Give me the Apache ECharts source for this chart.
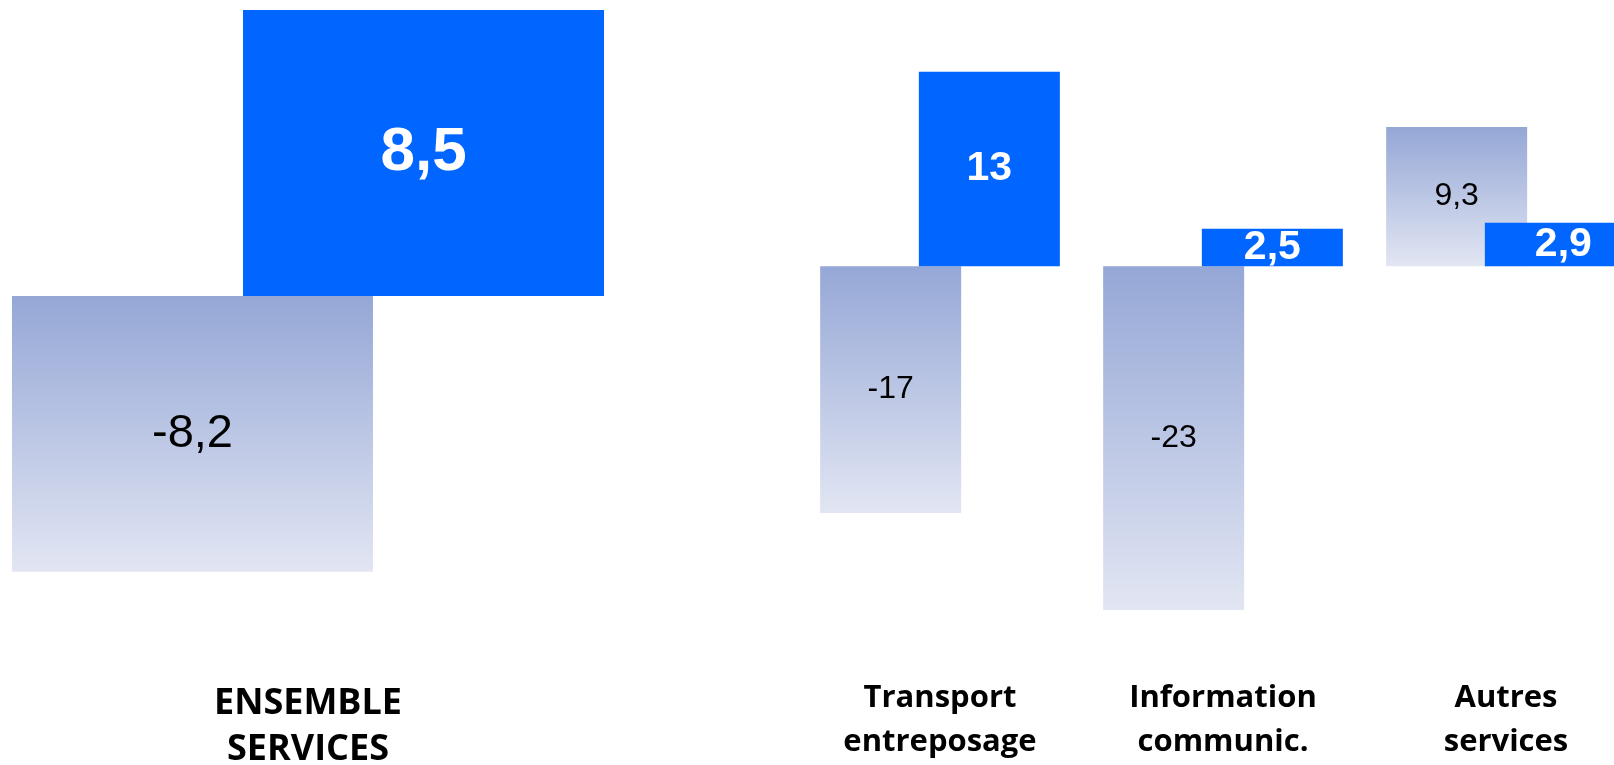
<!DOCTYPE html>
<html>
<head>
<meta charset="utf-8">
<script src="https://cdn.jsdelivr.net/npm/echarts@6/dist/echarts.min.js"></script>
<style>
html,body{margin:0;padding:0;background:#fff;}
#chart{width:1614px;height:765px;}
</style>
</head>
<body>
<div id="chart"></div>
<script>
// ---- data ----
var leftCategories = ['ENSEMBLE\nSERVICES'];
var leftSeriesA = [-8.2];   // gradient series
var leftSeriesB = [8.5];    // blue series
var rightCategories = ['Transport\nentreposage', 'Information\ncommunic.', 'Autres\nservices'];
var rightSeriesA = [-16.5, -23, 9.3];
var rightSeriesB = [13, 2.5, 2.9];

// ---- styles ----
var gradient = new echarts.graphic.LinearGradient(0, 0, 0, 1, [
  { offset: 0, color: '#95a7d6' },
  { offset: 1, color: '#e2e6f3' }
]);
var blue = '#0066ff';
function fmt(p) { return Number(p.value).toPrecision(2).replace('.', ','); }
var rightBLabelOverride = { 2: { offset: [8, 0] } };

var chart = echarts.init(document.getElementById('chart'));
chart.setOption({
  animation: false,
  grid: [
    { left: 8, width: 600, top: 0, height: 592, outerBoundsMode: 'none', containLabel: false },
    { left: 798.5, width: 849, top: 0, height: 640, outerBoundsMode: 'none', containLabel: false }
  ],
  xAxis: [
    { type: 'category', gridIndex: 0, data: leftCategories,
      axisLine: { show: false }, axisTick: { show: false },
      axisLabel: { margin: 89, fontFamily: 'Open Sans', fontWeight: 'bold', fontSize: 36, lineHeight: 46, color: '#000' } },
    { type: 'category', gridIndex: 1, data: rightCategories,
      axisLine: { show: false }, axisTick: { show: false },
      axisLabel: { margin: 36, fontFamily: 'Open Sans', fontWeight: 'bold', fontSize: 31, lineHeight: 44, color: '#000' } }
  ],
  yAxis: [
    { type: 'value', gridIndex: 0, min: -8.8, max: 8.8, show: false, splitLine: { show: false } },
    { type: 'value', gridIndex: 1, min: -25, max: 17.8, show: false, splitLine: { show: false } }
  ],
  series: [
    { type: 'bar', xAxisIndex: 0, yAxisIndex: 0, data: leftSeriesA, barWidth: 361, barGap: '-36%',
      itemStyle: { color: gradient },
      label: { show: true, position: 'inside', formatter: fmt, fontFamily: 'Liberation Sans', fontSize: 47, color: '#000' } },
    { type: 'bar', xAxisIndex: 0, yAxisIndex: 0, data: leftSeriesB, barWidth: 361, barGap: '-36%',
      itemStyle: { color: blue },
      label: { show: true, position: 'inside', formatter: fmt, fontFamily: 'Liberation Sans', fontWeight: 'bold', fontSize: 62, color: '#fff' } },
    { type: 'bar', xAxisIndex: 1, yAxisIndex: 1, data: rightSeriesA, barWidth: 141, barGap: '-30%',
      itemStyle: { color: gradient },
      label: { show: true, position: 'inside', formatter: fmt, fontFamily: 'Liberation Sans', fontSize: 32, color: '#000' } },
    { type: 'bar', xAxisIndex: 1, yAxisIndex: 1, barWidth: 141, barGap: '-30%',
      data: rightSeriesB.map(function (v, i) {
        return rightBLabelOverride[i] ? { value: v, label: rightBLabelOverride[i] } : v;
      }),
      itemStyle: { color: blue },
      label: { show: true, position: 'inside', formatter: fmt, fontFamily: 'Liberation Sans', fontWeight: 'bold', fontSize: 41, color: '#fff' } }
  ]
});
</script>
</body>
</html>
